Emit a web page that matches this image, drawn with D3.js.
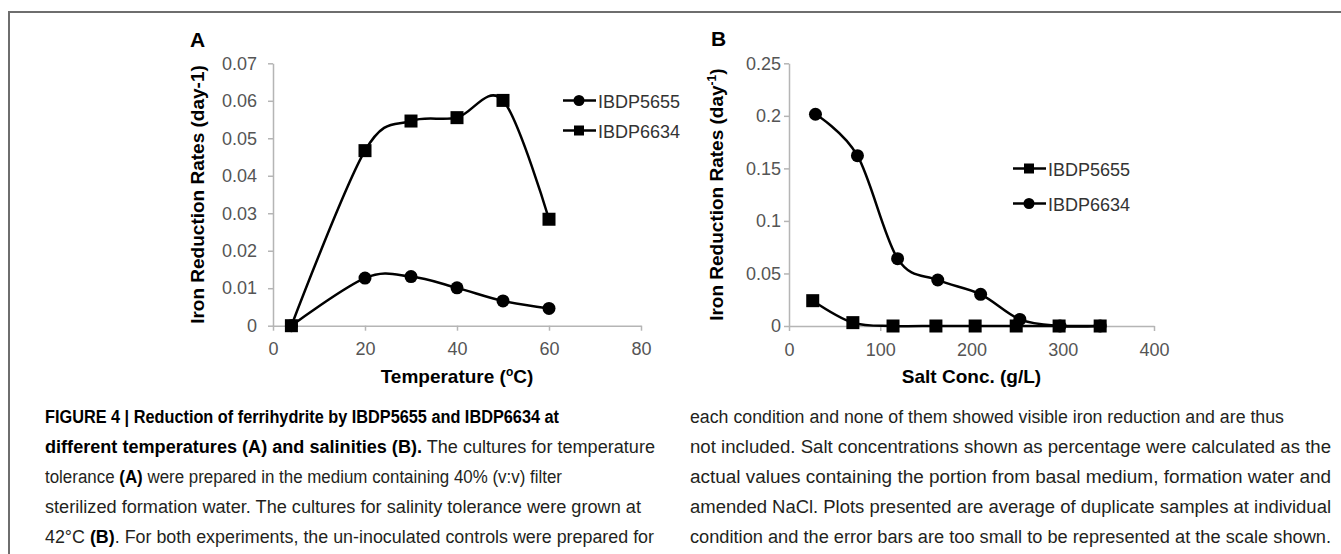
<!DOCTYPE html>
<html lang="en">
<head>
<meta charset="UTF-8">
<title>Figure 4</title>
<script src="https://d3js.org/d3.v7.min.js"></script>
<style>
  body { margin: 0; background: #fff; }
  svg text { font-family: "Liberation Sans", Arial, Helvetica, sans-serif; }
</style>
</head>
<body>
<div class="box"></div>
<script>
let width = 1341
let height = 554

// panel A: temperature
let tempC = [4, 20, 30, 40, 50, 60]
let rateA5655 = [0, 0.0127, 0.0131, 0.0101, 0.0066, 0.0046]
let rateA6634 = [0, 0.0467, 0.0546, 0.0555, 0.0601, 0.0284]
let tickXA = [0, 20, 40, 60, 80]
let tickYA = [0, 0.01, 0.02, 0.03, 0.04, 0.05, 0.06, 0.07]

// panel B: salt concentration
let saltB5655 = [26, 70, 114, 161, 204, 249, 296, 341]
let rateB5655 = [0.0241, 0.0032, 0, 0, 0, 0, 0, 0]
let saltB6634 = [29, 75, 119, 163, 210, 253, 297, 341]
let rateB6634 = [0.2015, 0.1621, 0.0641, 0.0438, 0.0301, 0.0063, 0, 0]
let tickXB = [0, 100, 200, 300, 400]
let tickYB = [0, 0.05, 0.1, 0.15, 0.2, 0.25]

// caption, [bold?, text] pieces per line
let captionLeft = [
  [[1, 'FIGURE 4 | Reduction of ferrihydrite by IBDP5655 and IBDP6634 at']],
  [[1, 'different temperatures (A) and salinities (B).'], [0, ' The cultures for temperature']],
  [[0, 'tolerance '], [1, '(A)'], [0, ' were prepared in the medium containing 40% (v:v) filter']],
  [[0, 'sterilized formation water. The cultures for salinity tolerance were grown at']],
  [[0, '42°C '], [1, '(B)'], [0, '. For both experiments, the un-inoculated controls were prepared for']]
]
let captionRight = [
  [[0, 'each condition and none of them showed visible iron reduction and are thus']],
  [[0, 'not included. Salt concentrations shown as percentage were calculated as the']],
  [[0, 'actual values containing the portion from basal medium, formation water and']],
  [[0, 'amended NaCl. Plots presented are average of duplicate samples at individual']],
  [[0, 'condition and the error bars are too small to be represented at the scale shown.']]
]
// right end of each caption line
let endsLeft = [559, 655, 562, 641, 654]
let endsRight = [1284, 1331, 1331, 1331, 1331]

let svg = d3.select('.box').append('svg').attr('width', width).attr('height', height)

// outer frame
svg.append('rect')
  .attr('x', 9).attr('y', 12).attr('width', 1400).attr('height', 700)
  .attr('fill', 'none').attr('stroke', '#6e6e6e').attr('stroke-width', 2)

let line = d3.line().curve(d3.curveCatmullRom.alpha(0))

function marker (g, shape, cx, cy, s) {
  if (shape === 'square') {
    g.append('rect').attr('x', cx - s / 2).attr('y', cy - s / 2)
      .attr('width', s).attr('height', s).attr('fill', '#000')
  } else {
    g.append('circle').attr('cx', cx).attr('cy', cy).attr('r', s / 2).attr('fill', '#000')
  }
}

function drawPanel (p) {
  let g = svg.append('g')
  let x = d3.scaleLinear().domain(p.xDomain).range(p.xRange)
  let y = d3.scaleLinear().domain(p.yDomain).range(p.yRange)
  let fmt = d => String(+d.toFixed(2))

  g.append('g').attr('transform', `translate(${p.xRange[0]},0)`)
    .call(d3.axisLeft(y).tickValues(p.yTicks).tickFormat(fmt).tickSize(5).tickSizeOuter(0).tickPadding(p.yPad))
  g.append('g').attr('transform', `translate(0,${p.yRange[0]})`)
    .call(d3.axisBottom(x).tickValues(p.xTicks).tickFormat(fmt).tickSize(5).tickSizeOuter(0).tickPadding(12))
  g.selectAll('.domain, .tick line').attr('stroke', '#b5b5b5').attr('stroke-width', 1.5)
  g.selectAll('.tick text').attr('fill', '#555').attr('font-size', 18)
    .attr('font-family', '"Liberation Sans", Arial, sans-serif')

  p.series.forEach(s => {
    let pts = s.xs.map((v, i) => [x(v), y(s.ys[i])])
    g.append('path').attr('d', line(pts)).attr('fill', 'none')
      .attr('stroke', '#000').attr('stroke-width', 2.5)
    pts.forEach(pt => marker(g, s.shape, pt[0], pt[1], 13))
  })

  // legend
  p.series.forEach((s, i) => {
    let ly = p.legend.y[i]
    g.append('line').attr('x1', p.legend.x).attr('x2', p.legend.x + 33)
      .attr('y1', ly).attr('y2', ly).attr('stroke', '#000').attr('stroke-width', 2.5)
    marker(g, s.shape, p.legend.x + 16, ly, s.shape === 'square' ? 10 : 11)
    g.append('text').attr('x', p.legend.x + 35).attr('y', ly + 7)
      .attr('font-size', 18).attr('fill', '#333').text(s.name)
  })

  // panel letter
  g.append('text').attr('x', p.letter[0]).attr('y', p.letter[1])
    .attr('font-size', 21).attr('font-weight', 'bold').text(p.letter[2])

  // axis titles
  let yt = g.append('text')
    .attr('transform', `translate(${p.yTitleX},${(p.yRange[0] + p.yRange[1]) / 2}) rotate(-90)`)
    .attr('text-anchor', 'middle').attr('font-size', 19).attr('font-weight', 'bold')
  p.yTitle.forEach(t => {
    let ts = yt.append('tspan').text(t[1])
    if (t[0]) ts.attr('font-size', 12).attr('dy', -7)
    else if (yt.selectAll('tspan').size() > 1) ts.attr('dy', 7)
  })
  let xt = g.append('text')
    .attr('x', (p.xRange[0] + p.xRange[1]) / 2).attr('y', 383)
    .attr('text-anchor', 'middle').attr('font-size', 19).attr('font-weight', 'bold')
  p.xTitle.forEach(t => {
    let ts = xt.append('tspan').text(t[1])
    if (t[0]) ts.attr('font-size', 12).attr('dy', -7)
    else if (xt.selectAll('tspan').size() > 1) ts.attr('dy', 7)
  })
}

drawPanel({
  xDomain: [0, 80], xRange: [273, 641],
  yDomain: [0, 0.07], yRange: [325.7, 63.3],
  xTicks: tickXA, yTicks: tickYA, yPad: 11,
  series: [
    { name: 'IBDP5655', shape: 'circle', xs: tempC, ys: rateA5655 },
    { name: 'IBDP6634', shape: 'square', xs: tempC, ys: rateA6634 }
  ],
  legend: { x: 563, y: [100.5, 130.5] },
  letter: [190, 46.5, 'A'],
  yTitleX: 204,
  yTitle: [[0, 'Iron Reduction Rates (day-1)']],
  xTitle: [[0, 'Temperature ('], [1, 'o'], [0, 'C)']]
})

drawPanel({
  xDomain: [0, 400], xRange: [789, 1154],
  yDomain: [0, 0.25], yRange: [326, 63.3],
  xTicks: tickXB, yTicks: tickYB, yPad: 3,
  series: [
    { name: 'IBDP5655', shape: 'square', xs: saltB5655, ys: rateB5655 },
    { name: 'IBDP6634', shape: 'circle', xs: saltB6634, ys: rateB6634 }
  ],
  legend: { x: 1013, y: [168.5, 203.5] },
  letter: [711, 46, 'B'],
  yTitleX: 723,
  yTitle: [[0, 'Iron Reduction Rates (day'], [1, '-1'], [0, ')']],
  xTitle: [[0, 'Salt Conc. (g/L)']]
})

// caption: condensed face, each line squeezed to its right end.
// pieces become separate texts so bold/regular runs keep their own boxes
let capFont = '"Liberation Sans Narrow", "Liberation Sans", Arial, sans-serif'
function caption (lines, ends, x0) {
  lines.forEach((pieces, i) => {
    let ly = 423 + i * 30
    let tmp = svg.append('text').attr('x', x0).attr('y', ly)
      .attr('font-size', 18).attr('font-family', capFont).attr('xml:space', 'preserve')
    pieces.forEach(pc => tmp.append('tspan').attr('font-weight', pc[0] ? 'bold' : 'normal').text(pc[1]))
    let node = tmp.node()
    let s = (ends[i] - x0) / node.getComputedTextLength()
    let pos = 0
    pieces.forEach(pc => {
      let str = pc[1]
      let lead = str.length - str.trimStart().length
      let word = str.trim()
      let start = pos + lead > 0 ? node.getSubStringLength(0, pos + lead) : 0
      let w = node.getSubStringLength(pos + lead, word.length)
      svg.append('text').attr('x', x0 + start * s).attr('y', ly)
        .attr('font-size', 18).attr('font-family', capFont)
        .attr('font-weight', pc[0] ? 'bold' : 'normal')
        .attr('fill', pc[0] ? '#000' : '#231f20')
        .attr('textLength', w * s).attr('lengthAdjust', 'spacingAndGlyphs')
        .text(word)
      pos += str.length
    })
    tmp.remove()
  })
}
caption(captionLeft, endsLeft, 45)
caption(captionRight, endsRight, 690)
</script>
</body>
</html>
